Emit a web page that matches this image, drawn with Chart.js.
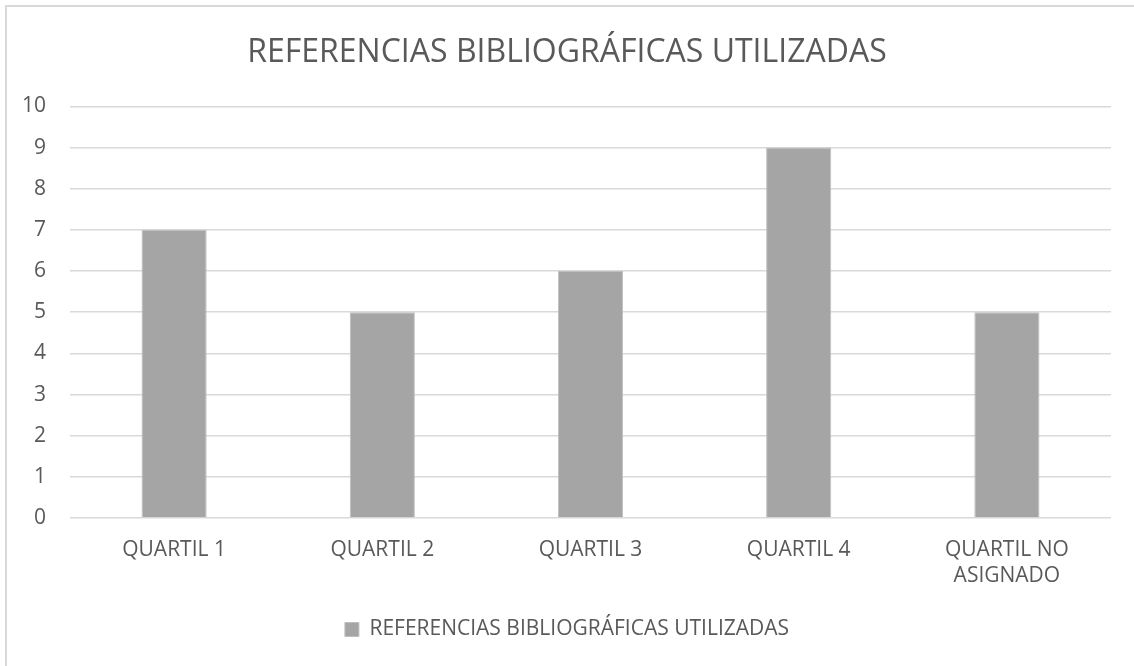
<!DOCTYPE html>
<html>
<head>
<meta charset="utf-8">
<script src="https://cdn.jsdelivr.net/npm/chart.js@4"></script>
<style>
  html, body { margin: 0; padding: 0; background: #fff; overflow: hidden; }
  #frame {
    position: absolute; left: 5px; top: 5px; width: 2000px; height: 2000px;
    border-left: 2px solid #d9d9d9; border-top: 2px solid #d9d9d9;
  }
  #wrap { position: absolute; left: 0; top: 0; width: 1134px; height: 666px; }
</style>
</head>
<body>
<div id="frame"></div>
<div id="wrap"><canvas id="chart"></canvas></div>
<script>
// --- data ---
const TITLE = "REFERENCIAS BIBLIOGRÁFICAS UTILIZADAS";
const categories = ["QUARTIL 1", "QUARTIL 2", "QUARTIL 3", "QUARTIL 4", ["QUARTIL NO", "ASIGNADO"]];
const referencias = [7, 5, 6, 9, 5];
const yTicks = [0, 1, 2, 3, 4, 5, 6, 7, 8, 9, 10];

const TEXT = "#595959";
const FONT = "'Open Sans', sans-serif";

const ctx = document.getElementById("chart").getContext("2d");
new Chart(ctx, {
  type: "bar",
  data: {
    labels: categories,
    datasets: [
      {
        label: TITLE,
        data: referencias,
        backgroundColor: "#a5a5a5",
        borderColor: "#bfbfbf",
        borderWidth: 1,
        categoryPercentage: 1,
        barPercentage: 0.313,
      },
    ],
  },
  options: {
    responsive: true,
    maintainAspectRatio: false,
    animation: false,
    // symmetric side padding so title/legend centre on the page like the reference
    layout: { padding: { left: 23, right: 23, top: 0, bottom: 16 } },
    plugins: {
      title: {
        display: true,
        text: TITLE,
        color: TEXT,
        font: { family: FONT, size: 32, weight: "normal", lineHeight: 1.2 },
        padding: { top: 34, bottom: 34 },
      },
      legend: {
        position: "bottom",
        labels: {
          color: TEXT,
          font: { family: FONT, size: 21 },
          boxWidth: 14,
          boxHeight: 14,
          padding: 8,
        },
      },
      tooltip: { enabled: false },
    },
    scales: {
      x: {
        grid: { display: false },
        border: { display: false },
        ticks: {
          color: TEXT,
          font: { family: FONT, size: 21, lineHeight: 1.24 },
          padding: 11,
          maxRotation: 0,
          autoSkip: false,
        },
        afterFit: (s) => { s.height = 93; },
      },
      y: {
        min: 0,
        max: 10,
        afterBuildTicks: (s) => { s.ticks = yTicks.map((v) => ({ value: v })); },
        grid: { color: "#d9d9d9", lineWidth: 1.5, drawTicks: false },
        border: { display: false },
        ticks: {
          color: TEXT,
          font: { family: FONT, size: 21 },
          padding: 24,
        },
        afterFit: (s) => { s.width = 47; },
      },
    },
  },
});
</script>
</body>
</html>
